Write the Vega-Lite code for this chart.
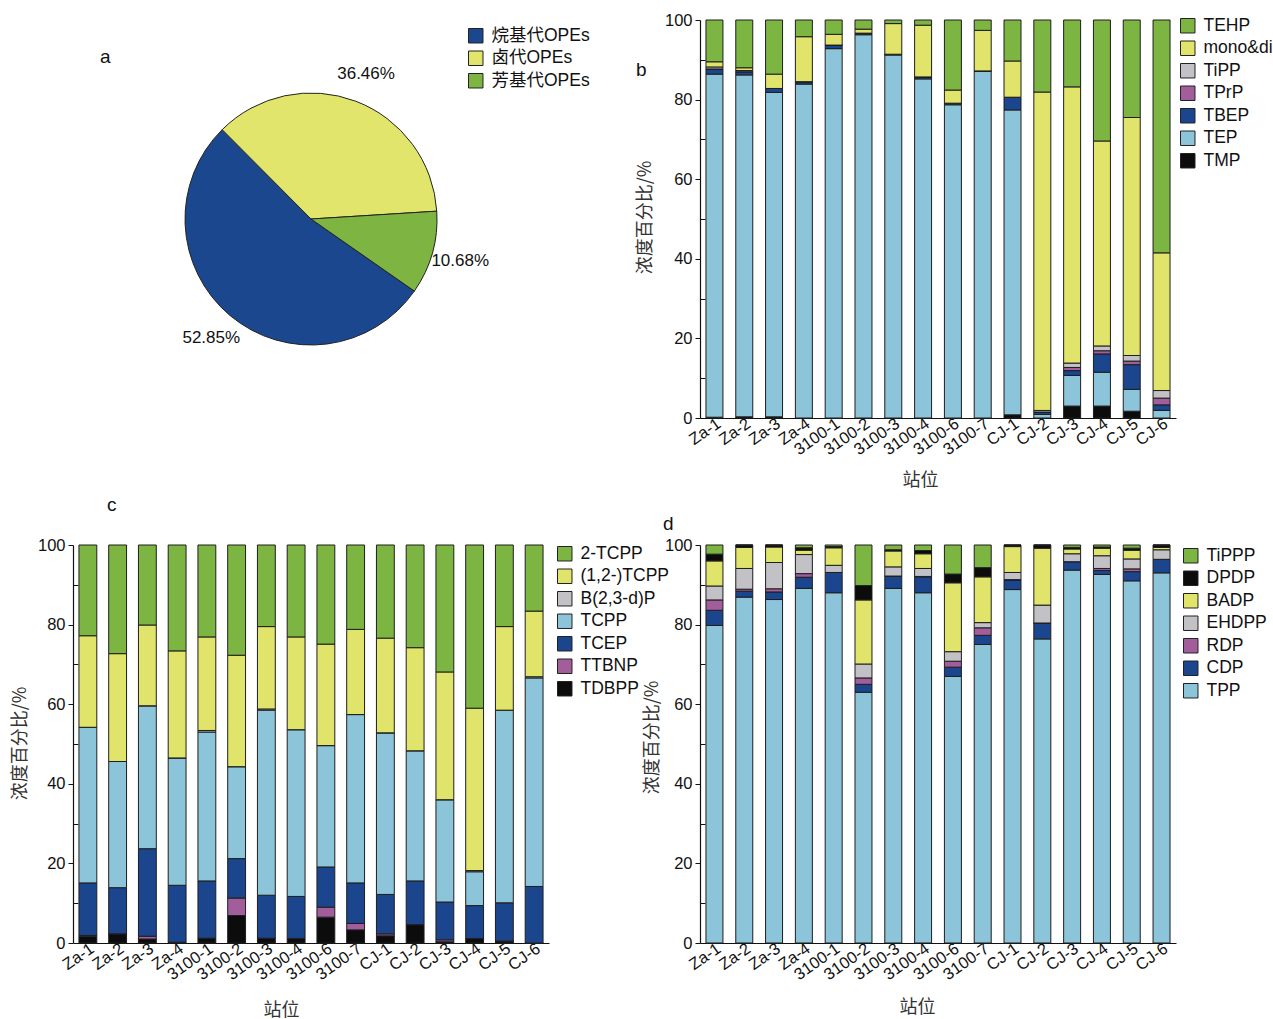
{
  "$schema": "https://vega.github.io/schema/vega-lite/v6.json",
  "background": "white",
  "padding": {"left": 11, "top": 12, "right": 0, "bottom": 0},
  "datasets": {
    "b": [
      {"s":"Za-1","TMP":0.2,"TEP":86.2,"TBEP":1.3,"TPrP":0,"TiPP":0.5,"mono&di":1.3,"TEHP":10.5},
      {"s":"Za-2","TMP":0.3,"TEP":85.9,"TBEP":0.8,"TPrP":0,"TiPP":0.3,"mono&di":0.7,"TEHP":12.0},
      {"s":"Za-3","TMP":0.3,"TEP":81.5,"TBEP":1.0,"TPrP":0,"TiPP":0,"mono&di":3.6,"TEHP":13.6},
      {"s":"Za-4","TMP":0,"TEP":83.9,"TBEP":0.6,"TPrP":0,"TiPP":0,"mono&di":11.3,"TEHP":4.2},
      {"s":"3100-1","TMP":0,"TEP":92.8,"TBEP":0.9,"TPrP":0,"TiPP":0,"mono&di":2.7,"TEHP":3.6},
      {"s":"3100-2","TMP":0,"TEP":96.3,"TBEP":0.4,"TPrP":0,"TiPP":0,"mono&di":1.0,"TEHP":2.3},
      {"s":"3100-3","TMP":0,"TEP":91.2,"TBEP":0.2,"TPrP":0,"TiPP":0,"mono&di":7.7,"TEHP":0.9},
      {"s":"3100-4","TMP":0,"TEP":85.2,"TBEP":0.5,"TPrP":0,"TiPP":0,"mono&di":13.0,"TEHP":1.3},
      {"s":"3100-6","TMP":0,"TEP":78.7,"TBEP":0.4,"TPrP":0,"TiPP":0,"mono&di":3.3,"TEHP":17.6},
      {"s":"3100-7","TMP":0,"TEP":87.1,"TBEP":0.1,"TPrP":0,"TiPP":0,"mono&di":10.2,"TEHP":2.6},
      {"s":"CJ-1","TMP":0.8,"TEP":76.6,"TBEP":3.2,"TPrP":0,"TiPP":0,"mono&di":9.1,"TEHP":10.3},
      {"s":"CJ-2","TMP":0,"TEP":0.9,"TBEP":0.6,"TPrP":0,"TiPP":0.4,"mono&di":80.0,"TEHP":18.1},
      {"s":"CJ-3","TMP":3.0,"TEP":7.7,"TBEP":1.2,"TPrP":0.8,"TiPP":1.1,"mono&di":69.4,"TEHP":16.8},
      {"s":"CJ-4","TMP":3.0,"TEP":8.5,"TBEP":4.6,"TPrP":0.8,"TiPP":1.2,"mono&di":51.5,"TEHP":30.4},
      {"s":"CJ-5","TMP":1.7,"TEP":5.5,"TBEP":6.2,"TPrP":0.9,"TiPP":1.4,"mono&di":59.8,"TEHP":24.5},
      {"s":"CJ-6","TMP":0,"TEP":1.9,"TBEP":1.4,"TPrP":1.7,"TiPP":1.9,"mono&di":34.6,"TEHP":58.5}
    ],
    "c": [
      {"s":"Za-1","TDBPP":1.7,"TTBNP":0.2,"TCEP":13.2,"TCPP":39.1,"B(2,3-d)P":0,"(1,2-)TCPP":23.0,"2-TCPP":22.8},
      {"s":"Za-2","TDBPP":2.3,"TTBNP":0,"TCEP":11.6,"TCPP":31.7,"B(2,3-d)P":0,"(1,2-)TCPP":27.1,"2-TCPP":27.3},
      {"s":"Za-3","TDBPP":1.0,"TTBNP":0.7,"TCEP":22.0,"TCPP":35.9,"B(2,3-d)P":0,"(1,2-)TCPP":20.3,"2-TCPP":20.1},
      {"s":"Za-4","TDBPP":0.2,"TTBNP":0,"TCEP":14.3,"TCPP":32.0,"B(2,3-d)P":0,"(1,2-)TCPP":26.9,"2-TCPP":26.6},
      {"s":"3100-1","TDBPP":1.2,"TTBNP":0,"TCEP":14.4,"TCPP":37.4,"B(2,3-d)P":0.4,"(1,2-)TCPP":23.5,"2-TCPP":23.1},
      {"s":"3100-2","TDBPP":6.9,"TTBNP":4.4,"TCEP":9.9,"TCPP":23.1,"B(2,3-d)P":0,"(1,2-)TCPP":28.0,"2-TCPP":27.7},
      {"s":"3100-3","TDBPP":1.2,"TTBNP":0,"TCEP":10.8,"TCPP":46.5,"B(2,3-d)P":0.3,"(1,2-)TCPP":20.7,"2-TCPP":20.5},
      {"s":"3100-4","TDBPP":1.1,"TTBNP":0,"TCEP":10.6,"TCPP":41.9,"B(2,3-d)P":0,"(1,2-)TCPP":23.3,"2-TCPP":23.1},
      {"s":"3100-6","TDBPP":6.5,"TTBNP":2.5,"TCEP":10.1,"TCPP":30.5,"B(2,3-d)P":0,"(1,2-)TCPP":25.5,"2-TCPP":24.9},
      {"s":"3100-7","TDBPP":3.3,"TTBNP":1.6,"TCEP":10.2,"TCPP":42.3,"B(2,3-d)P":0,"(1,2-)TCPP":21.4,"2-TCPP":21.2},
      {"s":"CJ-1","TDBPP":1.8,"TTBNP":0.5,"TCEP":9.9,"TCPP":40.6,"B(2,3-d)P":0,"(1,2-)TCPP":23.8,"2-TCPP":23.4},
      {"s":"CJ-2","TDBPP":4.6,"TTBNP":0,"TCEP":11.0,"TCPP":32.7,"B(2,3-d)P":0,"(1,2-)TCPP":25.9,"2-TCPP":25.8},
      {"s":"CJ-3","TDBPP":0.3,"TTBNP":0.5,"TCEP":9.5,"TCPP":25.7,"B(2,3-d)P":0,"(1,2-)TCPP":32.1,"2-TCPP":31.9},
      {"s":"CJ-4","TDBPP":1.1,"TTBNP":0,"TCEP":8.3,"TCPP":8.5,"B(2,3-d)P":0.3,"(1,2-)TCPP":40.8,"2-TCPP":41.0},
      {"s":"CJ-5","TDBPP":0.5,"TTBNP":0,"TCEP":9.6,"TCPP":48.4,"B(2,3-d)P":0,"(1,2-)TCPP":21.0,"2-TCPP":20.5},
      {"s":"CJ-6","TDBPP":0,"TTBNP":0,"TCEP":14.2,"TCPP":52.4,"B(2,3-d)P":0.3,"(1,2-)TCPP":16.5,"2-TCPP":16.6}
    ],
    "d": [
      {"s":"Za-1","TPP":79.8,"CDP":3.8,"RDP":2.6,"EHDPP":3.5,"BADP":6.3,"DPDP":1.7,"TiPPP":2.3},
      {"s":"Za-2","TPP":86.9,"CDP":1.5,"RDP":0.5,"EHDPP":5.2,"BADP":5.3,"DPDP":0.6,"TiPPP":0},
      {"s":"Za-3","TPP":86.3,"CDP":1.9,"RDP":0.8,"EHDPP":6.6,"BADP":3.9,"DPDP":0.5,"TiPPP":0},
      {"s":"Za-4","TPP":89.1,"CDP":2.8,"RDP":0.9,"EHDPP":4.8,"BADP":1.1,"DPDP":0.6,"TiPPP":0.7},
      {"s":"3100-1","TPP":88.0,"CDP":5.1,"RDP":0,"EHDPP":1.8,"BADP":4.4,"DPDP":0.3,"TiPPP":0.4},
      {"s":"3100-2","TPP":63.0,"CDP":2.0,"RDP":1.6,"EHDPP":3.5,"BADP":16.1,"DPDP":3.6,"TiPPP":10.2},
      {"s":"3100-3","TPP":89.1,"CDP":3.0,"RDP":0.1,"EHDPP":2.3,"BADP":4.0,"DPDP":0.3,"TiPPP":1.2},
      {"s":"3100-4","TPP":88.0,"CDP":4.0,"RDP":0.1,"EHDPP":2.0,"BADP":3.7,"DPDP":0.8,"TiPPP":1.4},
      {"s":"3100-6","TPP":67.0,"CDP":2.3,"RDP":1.5,"EHDPP":2.4,"BADP":17.3,"DPDP":2.2,"TiPPP":7.3},
      {"s":"3100-7","TPP":75.0,"CDP":2.3,"RDP":1.9,"EHDPP":1.3,"BADP":11.5,"DPDP":2.3,"TiPPP":5.7},
      {"s":"CJ-1","TPP":88.8,"CDP":2.4,"RDP":0.1,"EHDPP":1.8,"BADP":6.5,"DPDP":0.4,"TiPPP":0},
      {"s":"CJ-2","TPP":76.4,"CDP":4.0,"RDP":0,"EHDPP":4.5,"BADP":14.3,"DPDP":0.8,"TiPPP":0},
      {"s":"CJ-3","TPP":93.7,"CDP":2.1,"RDP":0,"EHDPP":2.0,"BADP":1.2,"DPDP":0.4,"TiPPP":0.6},
      {"s":"CJ-4","TPP":92.6,"CDP":1.0,"RDP":0.5,"EHDPP":3.2,"BADP":1.9,"DPDP":0.3,"TiPPP":0.5},
      {"s":"CJ-5","TPP":91.0,"CDP":2.3,"RDP":0.7,"EHDPP":2.5,"BADP":2.2,"DPDP":0.5,"TiPPP":0.8},
      {"s":"CJ-6","TPP":93.0,"CDP":3.4,"RDP":0,"EHDPP":2.4,"BADP":0.6,"DPDP":0.6,"TiPPP":0}
    ],
    "pie": [
      {"g":"烷基代OPEs","p":52.85,"t":"52.85%"},
      {"g":"卤代OPEs","p":36.46,"t":"36.46%"},
      {"g":"芳基代OPEs","p":10.68,"t":"10.68%"}
    ]
  },
  "bounds": "flush",
  "columns": 2,
  "spacing": {"row": 127, "column": 151},
  "resolve": {"scale": {"color": "independent", "x": "independent", "y": "independent", "theta": "independent"}, "legend": {"color": "independent"}, "axis": {"x": "independent", "y": "independent"}},
  "concat": [
    {
      "width": 476,
      "height": 398,
      "view": {"stroke": null},
      "title": {"text": "a", "anchor": "start", "frame": "group", "orient": "top", "offset": 0, "dx": 27, "dy": 62, "baseline": "alphabetic", "fontSize": 19, "fontWeight": "normal", "font": "Liberation Sans", "color": "#111"},
      "data": {"name": "pie"},
      "encoding": {
        "theta": {"field": "p", "type": "quantitative", "stack": true, "scale": {"range": [2.18, 8.463]}},
        "order": {"field": "p", "type": "quantitative", "sort": "descending"}
      },
      "layer": [
        {
          "mark": {"type": "arc", "outerRadius": 126, "stroke": "#222", "strokeWidth": 1},
          "encoding": {
            "color": {
              "field": "g", "type": "nominal",
              "scale": {"domain": ["烷基代OPEs", "卤代OPEs", "芳基代OPEs"], "range": ["#1b478f", "#e2e56c", "#7eb542"]},
              "legend": {"title": null, "orient": "none", "legendX": 394, "legendY": 7}
            }
          }
        },
        {
          "mark": {"type": "text", "radius": 155, "fontSize": 17, "font": "Liberation Sans", "color": "#111"},
          "encoding": {"text": {"field": "t", "type": "nominal"}}
        }
      ]
    },
    {
      "width": 476,
      "height": 398,
      "title": {"text": "b", "anchor": "start", "frame": "group", "orient": "top", "offset": 0, "dx": -64, "dy": 83, "baseline": "alphabetic", "fontSize": 19, "fontWeight": "normal", "font": "Liberation Sans", "color": "#111"},
      "data": {"name": "b"},
      "transform": [
        {"fold": ["TMP", "TEP", "TBEP", "TPrP", "TiPP", "mono&di", "TEHP"], "as": ["c", "v"]},
        {"calculate": "indexof(['TMP', 'TEP', 'TBEP', 'TPrP', 'TiPP', 'mono&di', 'TEHP'], datum.c)", "as": "o"}
      ],
      "mark": {"type": "bar", "stroke": "#1e1e1e", "strokeWidth": 1},
      "encoding": {
        "x": {"field": "s", "type": "nominal", "sort": null, "scale": {"paddingInner": 0.43, "paddingOuter": 0.2},
              "axis": {"title": "站位", "titleX": 220, "titleY": 62}},
        "y": {"field": "v", "type": "quantitative", "stack": "zero", "scale": {"domain": [0, 100], "nice": false},
              "axis": {"values": [0, 10, 20, 30, 40, 50, 60, 70, 80, 90, 100], "labelExpr": "datum.value % 20 === 0 ? datum.label : ''",
                       "title": "浓度百分比/%", "titleX": -55, "titleY": 197}},
        "order": {"field": "o", "type": "quantitative", "sort": "ascending"},
        "color": {"field": "c", "type": "nominal",
                  "scale": {"domain": ["TMP", "TEP", "TBEP", "TPrP", "TiPP", "mono&di", "TEHP"],
                            "range": ["#0c0c0c", "#8cc4da", "#1b468e", "#a25e9b", "#c2c1c6", "#e1e46b", "#7db542"]},
                  "legend": {"title": null, "orient": "none", "legendX": 479, "legendY": -3,
                             "values": ["TEHP", "mono&di", "TiPP", "TPrP", "TBEP", "TEP", "TMP"]}}
      }
    },
    {
      "width": 476,
      "height": 398,
      "title": {"text": "c", "anchor": "start", "frame": "group", "orient": "top", "offset": 0, "dx": 34, "dy": -7, "baseline": "alphabetic", "fontSize": 19, "fontWeight": "normal", "font": "Liberation Sans", "color": "#111"},
      "data": {"name": "c"},
      "transform": [
        {"fold": ["TDBPP", "TTBNP", "TCEP", "TCPP", "B(2,3-d)P", "(1,2-)TCPP", "2-TCPP"], "as": ["c", "v"]},
        {"calculate": "indexof(['TDBPP', 'TTBNP', 'TCEP', 'TCPP', 'B(2,3-d)P', '(1,2-)TCPP', '2-TCPP'], datum.c)", "as": "o"}
      ],
      "mark": {"type": "bar", "stroke": "#1e1e1e", "strokeWidth": 1},
      "encoding": {
        "x": {"field": "s", "type": "nominal", "sort": null, "scale": {"paddingInner": 0.4, "paddingOuter": 0.2},
              "axis": {"title": "站位", "titleX": 208, "titleY": 67}},
        "y": {"field": "v", "type": "quantitative", "stack": "zero", "scale": {"domain": [0, 100], "nice": false},
              "axis": {"values": [0, 10, 20, 30, 40, 50, 60, 70, 80, 90, 100], "labelExpr": "datum.value % 20 === 0 ? datum.label : ''",
                       "title": "浓度百分比/%", "titleX": -53, "titleY": 198}},
        "order": {"field": "o", "type": "quantitative", "sort": "ascending"},
        "color": {"field": "c", "type": "nominal",
                  "scale": {"domain": ["TDBPP", "TTBNP", "TCEP", "TCPP", "B(2,3-d)P", "(1,2-)TCPP", "2-TCPP"],
                            "range": ["#0c0c0c", "#a25e9b", "#1b468e", "#8cc4da", "#c2c1c6", "#e1e46b", "#7db542"]},
                  "legend": {"title": null, "orient": "none", "legendX": 483, "legendY": 0,
                             "values": ["2-TCPP", "(1,2-)TCPP", "B(2,3-d)P", "TCPP", "TCEP", "TTBNP", "TDBPP"]}}
      }
    },
    {
      "width": 476,
      "height": 398,
      "title": {"text": "d", "anchor": "start", "frame": "group", "orient": "top", "offset": 0, "dx": -37, "dy": 12, "baseline": "alphabetic", "fontSize": 19, "fontWeight": "normal", "font": "Liberation Sans", "color": "#111"},
      "data": {"name": "d"},
      "transform": [
        {"fold": ["TPP", "CDP", "RDP", "EHDPP", "BADP", "DPDP", "TiPPP"], "as": ["c", "v"]},
        {"calculate": "indexof(['TPP', 'CDP', 'RDP', 'EHDPP', 'BADP', 'DPDP', 'TiPPP'], datum.c)", "as": "o"}
      ],
      "mark": {"type": "bar", "stroke": "#1e1e1e", "strokeWidth": 1},
      "encoding": {
        "x": {"field": "s", "type": "nominal", "sort": null, "scale": {"paddingInner": 0.43, "paddingOuter": 0.2},
              "axis": {"title": "站位", "titleX": 217, "titleY": 64}},
        "y": {"field": "v", "type": "quantitative", "stack": "zero", "scale": {"domain": [0, 100], "nice": false},
              "axis": {"values": [0, 10, 20, 30, 40, 50, 60, 70, 80, 90, 100], "labelExpr": "datum.value % 20 === 0 ? datum.label : ''",
                       "title": "浓度百分比/%", "titleX": -48, "titleY": 192}},
        "order": {"field": "o", "type": "quantitative", "sort": "ascending"},
        "color": {"field": "c", "type": "nominal",
                  "scale": {"domain": ["TPP", "CDP", "RDP", "EHDPP", "BADP", "DPDP", "TiPPP"],
                            "range": ["#8cc4da", "#1b468e", "#a25e9b", "#c2c1c6", "#e1e46b", "#0c0c0c", "#7db542"]},
                  "legend": {"title": null, "orient": "none", "legendX": 482, "legendY": 2,
                             "values": ["TiPPP", "DPDP", "BADP", "EHDPP", "RDP", "CDP", "TPP"]}}
      }
    }
  ],
  "config": {
    "font": "Liberation Sans",
    "view": {"stroke": null},
    "axis": {
      "grid": false,
      "domainColor": "#111",
      "domainWidth": 1.2,
      "tickColor": "#111",
      "tickWidth": 1,
      "labelColor": "#111",
      "labelFont": "Liberation Sans",
      "labelFontSize": 16.5,
      "titleFont": "Noto Sans CJK SC",
      "titleFontSize": 18,
      "titleFontWeight": "normal",
      "titleColor": "#333"
    },
    "axisX": {
      "labelAngle": -35,
      "labelAlign": "right",
      "labelBaseline": "top",
      "tickSize": -6,
      "labelPadding": 3,
      "titleAngle": 0,
      "titleAlign": "center",
      "titleBaseline": "middle"
    },
    "axisY": {
      "tickSize": {"condition": {"test": "datum.value % 20 === 0", "value": 5}, "value": -5},
      "labelPadding": 3,
      "titleAngle": -90,
      "titleAlign": "center",
      "titleBaseline": "middle"
    },
    "legend": {
      "symbolType": "square",
      "symbolSize": 210,
      "symbolStrokeColor": "#222",
      "symbolStrokeWidth": 1,
      "symbolOpacity": 1,
      "labelFont": "Liberation Sans, Noto Sans CJK SC",
      "labelFontSize": 17.5,
      "labelColor": "#111",
      "labelLimit": 300,
      "rowPadding": 3.5,
      "labelOffset": 7,
      "padding": 0
    }
  }
}
